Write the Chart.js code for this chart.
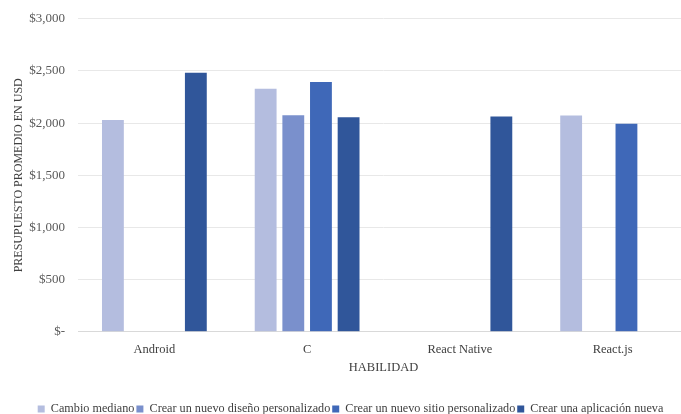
<!DOCTYPE html>
<html>
<head>
<meta charset="utf-8">
<script src="https://cdn.jsdelivr.net/npm/chart.js@4"></script>
<style>
html,body{margin:0;padding:0;background:#fff;overflow:hidden;}
#wrap{position:relative;width:689px;height:427px;margin-top:-2px;}
</style>
</head>
<body>
<div id="wrap"><canvas id="c"></canvas></div>
<script>
const categories = ["Android", "C", "React Native", "React.js"];
const seriesNames = ["Cambio mediano", "Crear un nuevo diseño personalizado", "Crear un nuevo sitio personalizado", "Crear una aplicación nueva"];
const cambioMediano = [2030, 2330, null, 2073];
const nuevoDiseno = [null, 2076, null, null];
const nuevoSitio = [null, 2394, null, 1993];
const aplicacionNueva = [2483, 2057, 2063, null];
const yTicks = [0, 500, 1000, 1500, 2000, 2500, 3000];
const yTickLabels = ["$-", "$500", "$1,000", "$1,500", "$2,000", "$2,500", "$3,000"];
const colors = ["#B4BDDF", "#7A90CC", "#3F68B8", "#30569A"];

const FONT = "'Liberation Serif', 'Times New Roman', serif";
const seriesData = [cambioMediano, nuevoDiseno, nuevoSitio, aplicacionNueva];

new Chart(document.getElementById('c'), {
  type: 'bar',
  data: {
    labels: categories,
    datasets: seriesNames.map((n, i) => ({
      label: n,
      data: seriesData[i],
      backgroundColor: colors[i],
      borderWidth: 0,
      categoryPercentage: 0.724,
      barPercentage: 0.79
    }))
  },
  options: {
    responsive: true,
    maintainAspectRatio: false,
    animation: false,
    layout: { padding: { top: 6, left: 12, right: 0, bottom: 0 } },
    plugins: {
      tooltip: { enabled: false },
      legend: {
        position: 'bottom',
        labels: {
          boxWidth: 7, boxHeight: 7, padding: 2,
          color: '#404040',
          font: { family: FONT, size: 12.2 }
        }
      }
    },
    scales: {
      x: {
        grid: { display: false, drawTicks: false },
        border: { display: true, color: '#d9d9d9' },
        ticks: { color: '#404040', padding: 10, font: { family: FONT, size: 12.5 } },
        title: {
          display: true, text: 'HABILIDAD', color: '#404040',
          font: { family: FONT, size: 12.5 },
          padding: { top: -7, bottom: 26 }
        }
      },
      y: {
        min: 0, max: 3000,
        afterFit: (s) => { s.width = 66; },
        afterBuildTicks: (s) => { s.ticks = yTicks.map(v => ({ value: v })); },
        grid: { color: '#e8e8e8', drawTicks: false },
        border: { display: false },
        ticks: {
          color: '#595959', padding: 13,
          font: { family: FONT, size: 13 },
          callback: (v) => yTickLabels[yTicks.indexOf(v)]
        },
        title: {
          display: true, text: 'PRESUPUESTO PROMEDIO EN USD', color: '#404040',
          font: { family: FONT, size: 12 },
          padding: { top: 0, bottom: 0 }
        }
      }
    }
  }
});
</script>
</body>
</html>
